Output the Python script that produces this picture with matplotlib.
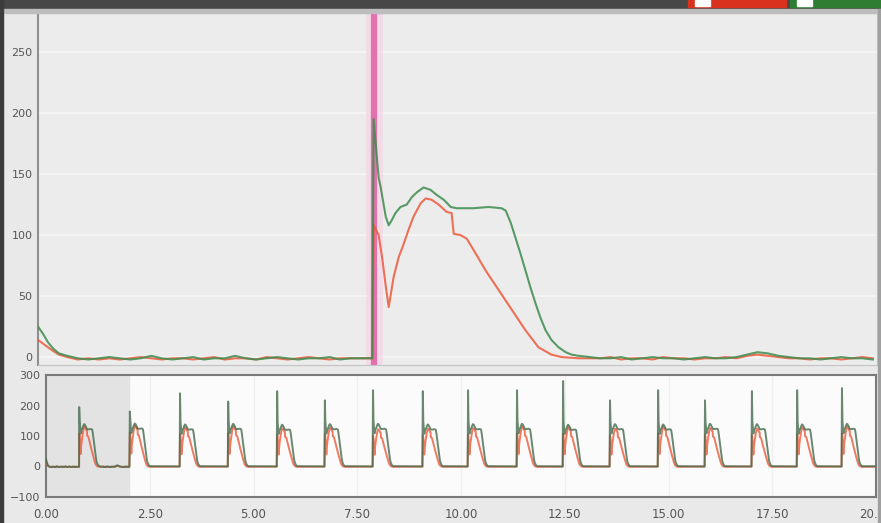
import numpy as np
import matplotlib
matplotlib.use("Agg")
import matplotlib.pyplot as plt
from matplotlib.patches import Rectangle

# ---------------- data ----------------
# detail view: one cardiac cycle, time in seconds
pre_t = [0.000, 0.012, 0.024, 0.036, 0.050, 0.070]
green_pre = [25, 19, 12, 7, 3, 1]
red_pre = [14, 11, 8, 5, 2, 0]

base1_t = list(np.arange(0.095, 0.79, 0.025))
green_base1 = [-1, -2, -1, 0, -1, -2, -1, 1, -1, -2, -1, 0, -2, -1, -1, 1, -1, -2,
               -1, 0, -1, -2, -1, -1, 0, -2, -1, -1]
red_base1 = [-2, -1, -2, -1, -2, -1, 0, -1, -2, -1, -1, -2, -1, 0, -2, -1, -1, -2,
             0, -1, -2, -1, 0, -1, -2, -1, -1, -1]

onset = 0.80
pulse_green_t = [0.797, 0.800, 0.812, 0.817, 0.829, 0.836, 0.843, 0.852, 0.864,
                 0.879, 0.891, 0.903, 0.919, 0.936, 0.950, 0.967, 0.984, 0.998,
                 1.038, 1.074, 1.105, 1.115, 1.127, 1.138, 1.150, 1.162, 1.174,
                 1.186, 1.198, 1.210, 1.224, 1.241, 1.258, 1.272, 1.289]
pulse_green_v = [-1, 195, 147, 139, 115, 108, 112, 118, 123,
                 125, 131, 135, 139, 137, 133, 129, 123, 122,
                 122, 123, 122, 120, 110, 98, 85, 71, 57,
                 44, 32, 22, 14, 8, 4, 2, 1]
pulse_red_t = [0.797, 0.800, 0.812, 0.821, 0.829, 0.836, 0.848, 0.860, 0.872,
               0.883, 0.895, 0.912, 0.924, 0.938, 0.955, 0.974, 0.986, 0.991,
               1.007, 1.022, 1.038, 1.067, 1.098, 1.129, 1.162, 1.193, 1.224,
               1.248, 1.289]
pulse_red_v = [-1, 108, 100, 80, 58, 41, 66, 82, 93,
               104, 115, 126, 130, 129, 125, 119, 118, 101,
               100, 97, 88, 71, 55, 39, 22, 8, 2,
               0, -1]

base2_t = list(np.arange(1.315, 2.001, 0.025))
green_base2 = [0, -1, -1, 0, -2, -1, 0, -1, -1, -2, -1, 0, -1, -1, 0, 2, 4, 3,
               1, 0, -1, -1, -2, -1, 0, -1, -1, -2]
red_base2 = [-1, -1, 0, -2, -1, -1, -2, 0, -1, -1, -2, -1, -1, 0, -1, 1, 2, 1,
             0, -1, -1, -2, -1, -1, -2, -1, 0, -1]

# overview: beat onsets and per-beat amplitudes
beat_onsets = [0.80, 2.02, 3.23, 4.39, 5.57, 6.72, 7.88, 9.08, 10.17,
               11.35, 12.46, 13.59, 14.75, 15.88, 17.01, 18.10, 19.18]
green_spikes = [195, 180, 240, 213, 247, 217, 250, 247, 250,
                250, 280, 217, 250, 217, 247, 250, 257]
green_plateaus = [139, 141, 138, 140, 137, 139, 140, 138, 139,
                  140, 137, 139, 138, 140, 139, 138, 140]
red_peaks = [130, 134, 128, 131, 125, 127, 122, 124, 126,
             130, 128, 124, 130, 126, 124, 128, 130]

selection = (0.0, 2.0)
ytick_top = [0, 50, 100, 150, 200, 250]
ytick_bottom = [-100, 0, 100, 200, 300]
xtick_bottom = [0, 2.5, 5, 7.5, 10, 12.5, 15, 17.5, 20]

GREEN = "#3e8c4f"
RED = "#ec5a3c"
PINK = "#e272ad"

# ---------------- assemble series ----------------
top_t_g = pre_t + base1_t + pulse_green_t + base2_t
top_v_g = green_pre + green_base1 + pulse_green_v + green_base2
top_t_r = pre_t + base1_t + pulse_red_t + base2_t
top_v_r = red_pre + red_base1 + pulse_red_v + red_base2

rel_g_t = np.array(pulse_green_t[1:]) - onset
rel_g_v = np.array(pulse_green_v[1:], dtype=float)
rel_r_t = np.array(pulse_red_t[1:]) - onset
rel_r_v = np.array(pulse_red_v[1:], dtype=float)


def overview(top_t, top_v, rel_t, rel_v, is_green):
    t = [x for x in top_t if x < selection[1]]
    v = [y for x, y in zip(top_t, top_v) if x < selection[1]]
    for i in range(1, len(beat_onsets)):
        b = beat_onsets[i]
        if is_green:
            vals = rel_v * (green_plateaus[i] / green_plateaus[0])
            vals[0] = green_spikes[i]
        else:
            vals = rel_v * (red_peaks[i] / red_peaks[0])
        t += [b - 0.01] + list(b + rel_t)
        v += [0] + list(vals)
    t.append(20.5)
    v.append(0)
    return t, v


ov_t_g, ov_v_g = overview(top_t_g, top_v_g, rel_g_t, rel_g_v, True)
ov_t_r, ov_v_r = overview(top_t_r, top_v_r, rel_r_t, rel_r_v, False)

# ---------------- figure ----------------
W, H = 881, 523
fig = plt.figure(figsize=(W / 100, H / 100), dpi=100)
fig.patch.set_facecolor("#e9e9e9")


def frac(x0, y0, x1, y1):
    return [x0 / W, 1 - y1 / H, (x1 - x0) / W, (y1 - y0) / H]


# window chrome
fig.patches.append(Rectangle((0, 1 - 9 / H), 1, 9 / H, transform=fig.transFigure,
                             color="#474747", zorder=0))
fig.patches.append(Rectangle((0, 1 - 13 / H), 1, 4 / H, transform=fig.transFigure,
                             color="#bdbdbd", zorder=0))
fig.patches.append(Rectangle((0, 0), 3 / W, 1, transform=fig.transFigure,
                             color="#3c3c3c", zorder=0))
fig.patches.append(Rectangle((878 / W, 0), 3 / W, 1 - 9 / H, transform=fig.transFigure,
                             color="#a0a0a0", zorder=0))
# series toggles
for x0, x1, c in [(688, 786, "#d8321e"), (790, 881, "#2f7d33")]:
    fig.patches.append(Rectangle((x0 / W, 1 - 7 / H), (x1 - x0) / W, 7 / H,
                                 transform=fig.transFigure, color=c, zorder=1))
    fig.patches.append(Rectangle(((x0 + 7) / W, 1 - 6 / H), 15 / W, 6 / H,
                                 transform=fig.transFigure, color="#ffffff", zorder=2))

# detail panel
ax = fig.add_axes(frac(38, 13, 877, 365))
ax.set_facecolor("#ececec")
ax.set_xlim(0, 2.0)
ax.set_ylim(-6.5, 282)
ax.set_yticks(ytick_top)
ax.set_xticks([])
for y in ytick_top:
    ax.axhline(y, color="#f6f6f6", lw=1.2, zorder=0)
ax.axvline(onset, color="#f6d3e5", lw=12, alpha=0.7, zorder=1)
ax.axvline(onset, color=PINK, lw=4.5, zorder=2)
ax.plot(top_t_r, top_v_r, color=RED, lw=1.5, alpha=0.85, zorder=3)
ax.plot(top_t_g, top_v_g, color=GREEN, lw=1.5, alpha=0.85, zorder=4)
ax.tick_params(axis="y", length=0, pad=4, labelsize=8, labelcolor="#555555")
for side in ["top", "right", "bottom"]:
    ax.spines[side].set_color("#c4c4c4")
ax.spines["left"].set_color("#8f8f8f")
ax.spines["left"].set_linewidth(1.5)

# overview panel
ax2 = fig.add_axes(frac(46, 375, 876, 497))
ax2.set_facecolor("#fbfbfb")
ax2.set_xlim(0, 20)
ax2.set_ylim(-100, 300)
ax2.set_yticks(ytick_bottom)
ax2.set_xticks(xtick_bottom)
ax2.set_xticklabels([f"{v:.2f}" for v in xtick_bottom])
for x in xtick_bottom:
    ax2.axvline(x, color="#efefef", lw=1, zorder=0)
ax2.axvspan(*selection, color="#e3e3e3", zorder=0.5)
ax2.plot(ov_t_r, ov_v_r, color=RED, lw=1.4, alpha=0.8, zorder=3)
ax2.plot(ov_t_g, ov_v_g, color="#456b4c", lw=1.4, alpha=0.8, zorder=4)
ax2.tick_params(axis="y", length=0, pad=4, labelsize=8, labelcolor="#555555")
ax2.tick_params(axis="x", length=0, pad=8, labelsize=8.5, labelcolor="#555555")
for s in ax2.spines.values():
    s.set_color("#7a7a7a")
    s.set_linewidth(1.5)

fig.savefig("out.png", dpi=100, facecolor=fig.get_facecolor())
